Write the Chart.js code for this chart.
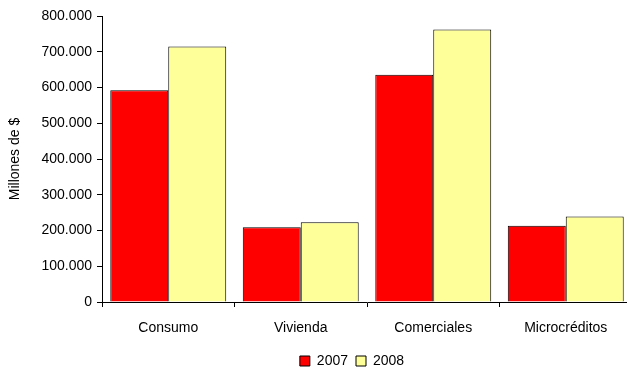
<!DOCTYPE html>
<html>
<head>
<meta charset="utf-8">
<script src="https://cdn.jsdelivr.net/npm/chart.js@4/dist/chart.umd.min.js"></script>
<style>
  html, body { margin: 0; padding: 0; background: #ffffff; overflow: hidden; }
  #wrap { width: 636px; height: 368px; }
</style>
</head>
<body>
<div id="wrap"><canvas id="chart" width="636" height="368"></canvas></div>
<script>
// Data (millones de $)
const categories = ['Consumo', 'Vivienda', 'Comerciales', 'Microcréditos'];
const values2007 = [592000, 209000, 636000, 213000];
const values2008 = [715000, 223000, 762000, 239000];
const seriesLabels = ['2007', '2008'];

Chart.defaults.font.family = '"Liberation Sans", Arial, sans-serif';
Chart.defaults.font.size = 14;
Chart.defaults.color = '#000000';

// format 800000 -> 800.000
function formatThousands(v) {
    return v.toString().replace(/\B(?=(\d{3})+(?!\d))/g, '.');
}

// legend in the original sits a bit right of the canvas centre
const shiftLegend = {
    id: 'shiftLegend',
    afterLayout(chart) {
        if (chart.legend) {
            chart.legend.left += 36;
            chart.legend.right += 36;
        }
    }
};

new Chart(document.getElementById('chart'), {
    type: 'bar',
    data: {
        labels: categories,
        datasets: [{
            label: seriesLabels[0],
            data: values2007,
            backgroundColor: '#ff0000',
            borderColor: '#000000',
            borderWidth: 1,
            barPercentage: 1.0,
            categoryPercentage: 0.875
        }, {
            label: seriesLabels[1],
            data: values2008,
            backgroundColor: '#ffff99',
            borderColor: '#000000',
            borderWidth: 1,
            barPercentage: 1.0,
            categoryPercentage: 0.875
        }]
    },
    plugins: [shiftLegend],
    options: {
        responsive: false,
        animation: false,
        layout: {
            padding: { top: 16, right: 4, bottom: -10, left: 0 }
        },
        plugins: {
            legend: {
                position: 'bottom',
                labels: {
                    boxWidth: 10,
                    boxHeight: 10,
                    padding: 8,
                    color: '#000000'
                }
            },
            tooltip: { enabled: false }
        },
        scales: {
            x: {
                grid: {
                    display: true,
                    drawOnChartArea: false,
                    drawTicks: true,
                    tickLength: 5,
                    color: '#000000',
                    offset: true
                },
                border: { display: true, color: '#000000', width: 1 },
                ticks: { padding: 13, color: '#000000' },
                afterFit: (scale) => { scale.height = 44; }
            },
            y: {
                min: 0,
                max: 800000,
                grid: {
                    display: true,
                    drawOnChartArea: false,
                    drawTicks: true,
                    tickLength: 5,
                    color: '#000000'
                },
                border: { display: true, color: '#000000', width: 1 },
                ticks: {
                    stepSize: 100000,
                    padding: 5,
                    color: '#000000',
                    callback: (v) => formatThousands(v)
                },
                title: {
                    display: true,
                    text: 'Millones de $',
                    color: '#000000',
                    padding: { top: 7, bottom: 4 }
                },
                afterFit: (scale) => { scale.width = 102; }
            }
        }
    }
});
</script>
</body>
</html>
